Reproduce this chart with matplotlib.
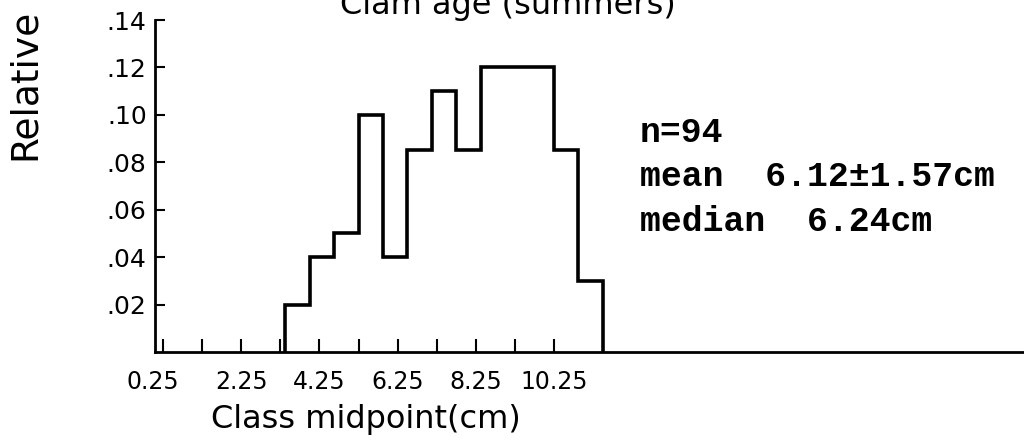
import matplotlib
matplotlib.use("Agg")
import matplotlib.pyplot as plt
from matplotlib.ticker import FixedLocator
from matplotlib.transforms import ScaledTranslation

# ---- data ----
class_edges = [3.375, 4.0, 4.625, 5.25, 5.875, 6.5, 7.125, 7.75,
               8.375, 9.0, 9.625, 10.25, 10.875, 11.5]
rel_freq = [0.02, 0.04, 0.05, 0.10, 0.04, 0.085, 0.11, 0.085,
            0.12, 0.12, 0.12, 0.085, 0.03]
x_major = [0.25, 2.25, 4.25, 6.25, 8.25, 10.25]
x_major_labels = ["0.25", "2.25", "4.25", "6.25", "8.25", "10.25"]
x_minor = [1.25, 3.25, 5.25, 7.25, 9.25]
y_ticks = [0.02, 0.04, 0.06, 0.08, 0.10, 0.12, 0.14]
y_labels = [".02", ".04", ".06", ".08", ".10", ".12", ".14"]
title = "Clam age (summers)"
ylabel = "Relative"
xlabel = "Class midpoint(cm)"
stats_lines = ["n=94", "mean  6.12\u00b11.57cm", "median  6.24cm"]

plt.rcParams['font.family'] = ['DejaVu Sans']

W, H = 1024, 441
fig = plt.figure(figsize=(W/100, H/100), dpi=100)
ax = fig.add_axes([155/W, 1 - 352/H, (W - 155)/W, (352 - 20)/H])

ax.stairs(rel_freq, class_edges, baseline=0, fill=False, color='black',
          linewidth=2.6)

ax.set_xlim(0.045, 22.27)
ax.set_ylim(0, 0.14)

for s in ['top', 'right']:
    ax.spines[s].set_visible(False)
for s in ['left', 'bottom']:
    ax.spines[s].set_linewidth(2.0)
    ax.spines[s].set_color('black')

ax.set_xticks(x_major)
ax.set_xticklabels(x_major_labels)
ax.xaxis.set_minor_locator(FixedLocator(x_minor))
ax.set_yticks(y_ticks)
ax.set_yticklabels(y_labels)

ax.tick_params(axis='x', which='both', direction='in', length=9.5, width=1.5,
               labelsize=17, pad=13)
ax.tick_params(axis='y', which='both', direction='in', length=7.5, width=1.5,
               labelsize=18, pad=6)

# first x label sits a little left of its tick in the reference
lbl0 = ax.get_xticklabels()[0]
lbl0.set_transform(lbl0.get_transform() + ScaledTranslation(-10/100, 0, fig.dpi_scale_trans))

fig.text(366/W, 1 - 428/H, xlabel, fontsize=23, ha='center', va='baseline')
fig.text(25/W, 1 - 84/H, ylabel, fontsize=27, rotation=90,
         ha='center', va='center')
fig.text(508/W, 1 - 14/H, title, fontsize=23, ha='center', va='baseline')

for i, line in enumerate(stats_lines):
    fig.text(640/W, 1 - (142 + i*44.5)/H, line, fontsize=25,
             family=['Liberation Mono', 'DejaVu Sans Mono'], fontweight='bold',
             ha='left', va='baseline')

fig.savefig("out.png", dpi=100)
